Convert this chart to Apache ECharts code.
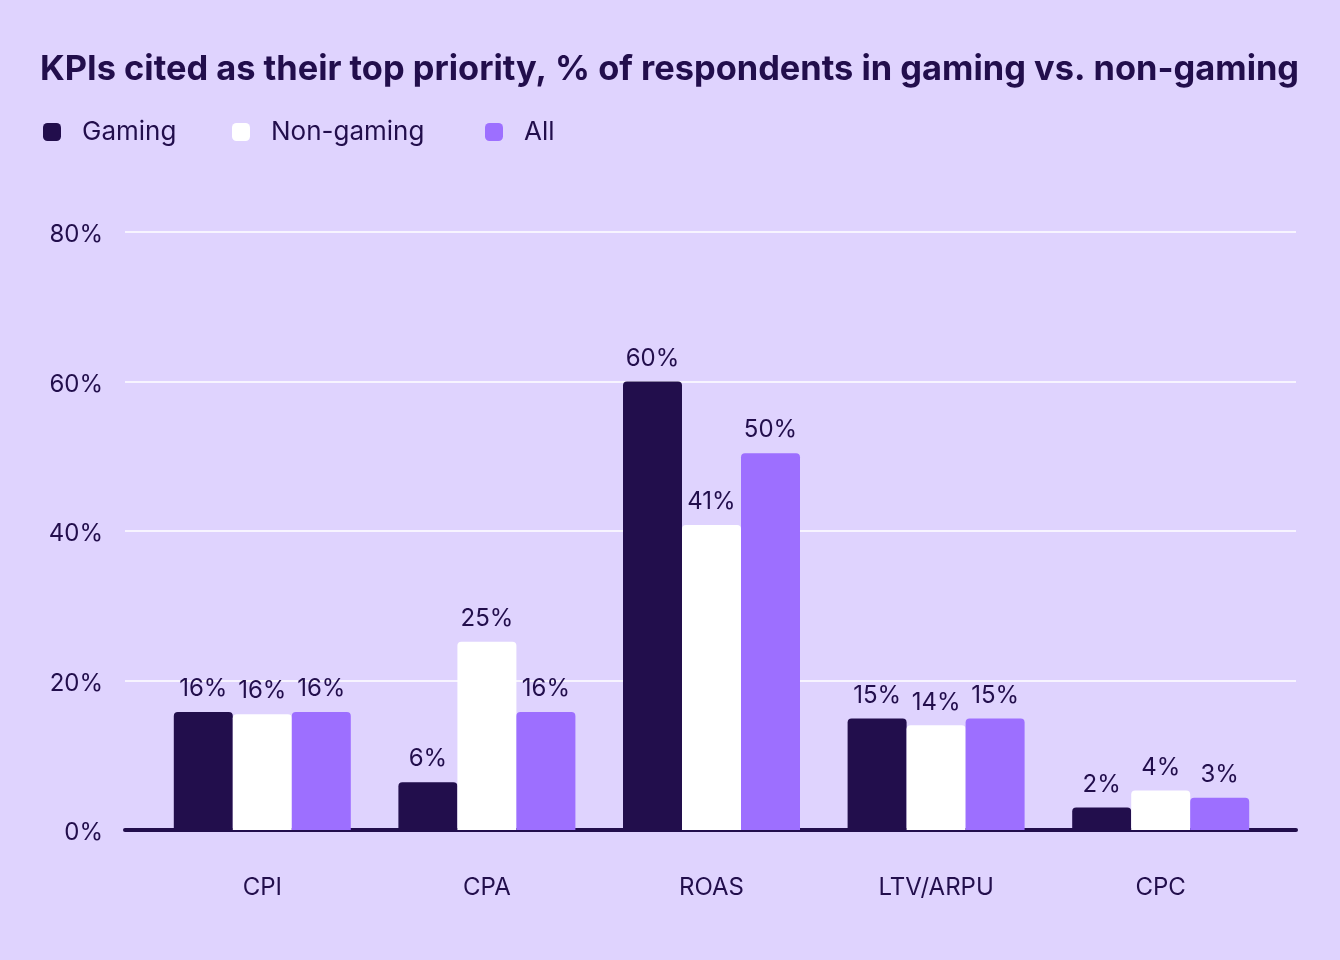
<!DOCTYPE html>
<html>
<head>
<meta charset="utf-8">
<script src="https://cdn.jsdelivr.net/npm/echarts@6/dist/echarts.min.js"></script>
<style>
html,body{margin:0;padding:0;background:#DFD3FE;}
#chart{width:1340px;height:960px;}
</style>
</head>
<body>
<div id="chart"></div>
<script>
const categories = ['CPI', 'CPA', 'ROAS', 'LTV/ARPU', 'CPC'];
const seriesNames = ['Gaming', 'Non-gaming', 'All'];
const gaming = [15.8, 6.4, 60.0, 14.9, 3.0];
const nonGaming = [15.5, 25.2, 40.8, 14.0, 5.3];
const all = [15.8, 15.8, 50.4, 14.9, 4.3];
const gamingLabels = ['16%', '6%', '60%', '15%', '2%'];
const nonGamingLabels = ['16%', '25%', '41%', '14%', '4%'];
const allLabels = ['16%', '16%', '50%', '15%', '3%'];
const yTicks = [0, 20, 40, 60, 80];

const dark = '#220E4C';
const font = 'Inter';

function barSeries(name, data, labels, color) {
  return {
    name: name,
    type: 'bar',
    xAxisIndex: 1,
    yAxisIndex: 1,
    data: data,
    barWidth: 59,
    barGap: '0%',
    itemStyle: { color: color, borderRadius: [4, 4, 0, 0] },
    label: {
      show: true,
      position: 'top',
      distance: 11,
      color: dark,
      fontFamily: font,
      fontSize: 24,
      formatter: p => labels[p.dataIndex]
    },
    emphasis: { disabled: true }
  };
}

function legendItem(name, left) {
  return {
    left: left,
    top: 114,
    itemWidth: 18,
    itemHeight: 18,
    icon: 'roundRect',
    textStyle: { color: dark, fontFamily: font, fontSize: 26, padding: [0, 0, 0, 16] },
    data: [name]
  };
}

const chart = echarts.init(document.getElementById('chart'), null, { renderer: 'canvas' });
chart.setOption({
  backgroundColor: '#DFD3FE',
  animation: false,
  title: {
    text: 'KPIs cited as their top priority, % of respondents in gaming vs. non-gaming',
    left: 35,
    top: 48,
    textStyle: { color: dark, fontFamily: font, fontWeight: 'bold', fontSize: 34.4 }
  },
  legend: [
    legendItem(seriesNames[0], 38),
    legendItem(seriesNames[1], 227),
    legendItem(seriesNames[2], 480)
  ],
  grid: [
    { left: 125, right: 44, top: 232, bottom: 130 },
    { left: 150, right: 67, top: 232, bottom: 130 }
  ],
  xAxis: [
    {
      type: 'value', gridIndex: 0, min: 0, max: 1,
      axisLine: { show: true, lineStyle: { color: dark, width: 4, cap: 'round' } },
      axisTick: { show: false }, axisLabel: { show: false }, splitLine: { show: false }
    },
    {
      type: 'category', gridIndex: 1, data: categories,
      axisLine: { show: false }, axisTick: { show: false },
      axisLabel: { color: dark, fontFamily: font, fontSize: 24, margin: 46 }
    }
  ],
  yAxis: [
    {
      type: 'value', gridIndex: 0, min: yTicks[0], max: yTicks[yTicks.length - 1], interval: 20,
      axisLine: { show: false }, axisTick: { show: false },
      axisLabel: {
        margin: 22,
        formatter: v => '{t|' + v + '%}',
        rich: { t: { color: dark, fontFamily: font, fontSize: 24, padding: [6, 0, 0, 0] } }
      },
      splitLine: { lineStyle: { color: '#FFFFFF', width: 1.5 } }
    },
    {
      type: 'value', gridIndex: 1, min: 0, max: 80, interval: 20, show: false,
      splitLine: { show: false }
    }
  ],
  series: [
    barSeries(seriesNames[0], gaming, gamingLabels, dark),
    barSeries(seriesNames[1], nonGaming, nonGamingLabels, '#FFFFFF'),
    barSeries(seriesNames[2], all, allLabels, '#9D6FFF')
  ]
});
</script>
</body>
</html>
